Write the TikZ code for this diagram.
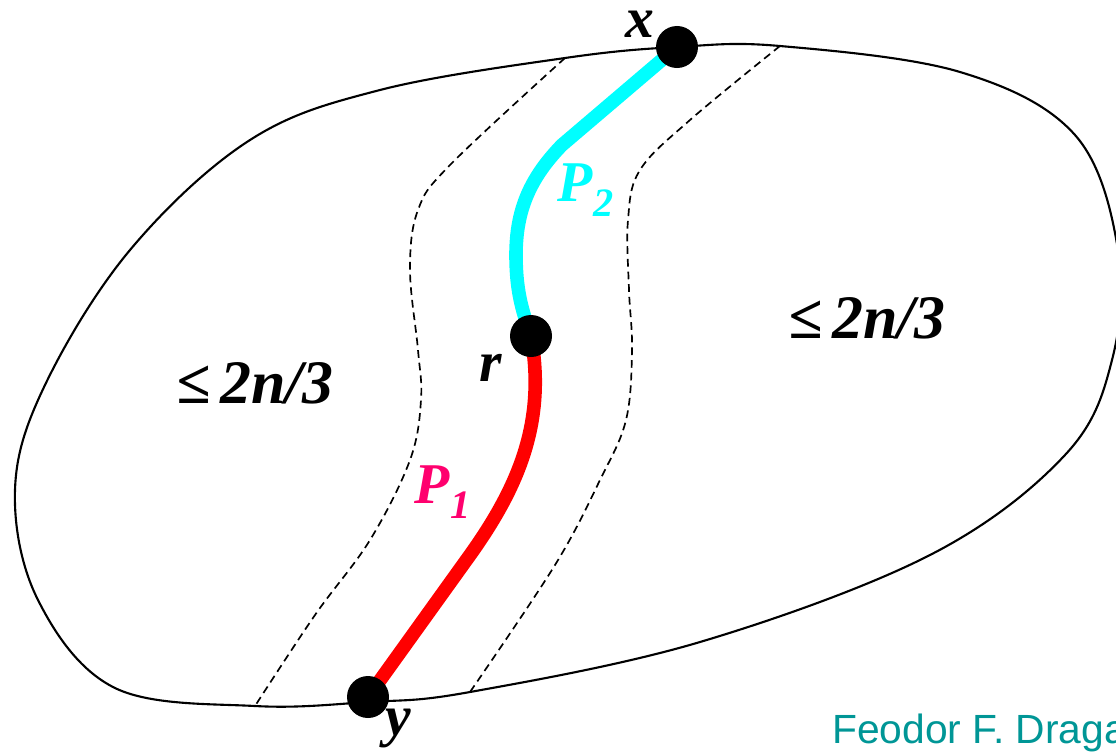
\documentclass[tikz,border=0pt]{standalone}
\usepackage{fontspec}
\setmainfont{Liberation Serif}
\setsansfont{Liberation Sans}
\usepackage{tikz}
\usetikzlibrary{positioning, calc}
\definecolor{SepCyan}{RGB}{0, 255, 255}
\definecolor{SepRed}{RGB}{255, 0, 0}
\definecolor{SepPink}{RGB}{255, 0, 110}
\definecolor{SepTeal}{RGB}{0, 150, 150}

\tikzset{
  vertex/.style={circle, fill=black, minimum size=1.05cm, inner sep=0pt},
  border/.style={line width=1.5pt, black},
  sepline/.style={dash pattern=on 5.5pt off 3.5pt, line width=1.2pt, black},
  pathline/.style={line width=0.34cm, line cap=round},
  lbl/.style={font=\fontsize{41}{44}\selectfont\bfseries\itshape, inner sep=0pt},
  bound/.style={font=\fontsize{44}{48}\selectfont\bfseries\itshape, inner sep=0pt}
}

\begin{document}
\begin{tikzpicture}[x=0.025cm, y=-0.025cm]
    \useasboundingbox (0,0) rectangle (1116,751);

    % the graph region
    \draw[border] plot[smooth cycle, tension=0.6] coordinates {
      (565,58) (677,47) (780,46) (960,72) (1075,135) (1118,250) (1112,360)
      (1065,455) (930,555) (700,642) (470,692) (368,702) (255,706)
      (115,688) (38,600) (15,490) (45,385) (130,250) (250,140) (380,90)};

    % separator borders
    \draw[sepline] plot[smooth, tension=0.6] coordinates {
      (565,58) (450,165) (418,210) (410,270) (418,350) (421,400) (410,460)
      (370,540) (315,615) (255,706)};
    \draw[sepline] plot[smooth, tension=0.6] coordinates {
      (780,46) (690,120) (640,170) (628,220) (629,290) (632,350) (626,420)
      (600,480) (555,565) (470,692)};

    % vertices
    \coordinate (x) at (677,47);
    \coordinate (r) at (531,336);
    \coordinate (y) at (368,697);

    % separator paths
    \draw[pathline, SepCyan] (x) -- (562,145)
      .. controls (530,178) and (516,210) .. (516,255)
      .. controls (516,295) and (524,315) .. (r);
    \draw[pathline, SepRed] (r)
      .. controls (546,420) and (520,485) .. (470,555) -- (y);

    \node[vertex] (xdot) at (x) {};
    \node[vertex] (rdot) at (r) {};
    \node[vertex] (ydot) at (y) {};

    % labels
    \node[lbl] (xlbl) at (640,24) {x};
    \node[lbl] (rlbl) at (491,368) {r};
    \node[lbl] (ylbl) at (398,728) {y};
    \node[lbl, SepCyan] (p2lbl) at (586,190) {P\textsubscript{2}};
    \node[lbl, SepPink] (p1lbl) at (443,492) {P\textsubscript{1}};
    \node[bound] (left) at (255,383) {≤\,2n/3};
    \node[bound] (right) at (867,318) {≤\,2n/3};

    \node[anchor=west, font=\sffamily\fontsize{29}{32}\selectfont, SepTeal, inner sep=0pt]
      (author) at (832,733) {Feodor F. Dragan};
  \end{tikzpicture}
\end{document}
